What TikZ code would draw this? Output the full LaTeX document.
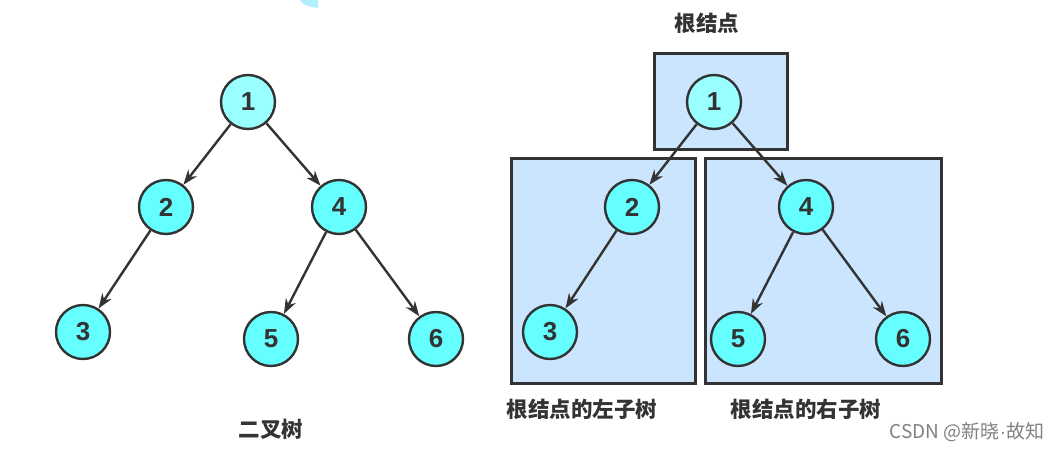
\documentclass[tikz,border=0pt]{standalone}
\usepackage{fontspec}
\setmainfont{Liberation Sans}
\newfontfamily\cjk{Noto Sans CJK SC}
\usetikzlibrary{arrows.meta}

\definecolor{linegray}{HTML}{333333}
\definecolor{rootcyan}{HTML}{99FFFF}
\definecolor{nodecyan}{HTML}{66FFFF}
\definecolor{boxblue}{HTML}{CCE5FF}
\definecolor{blobcyan}{HTML}{B3EEFF}

\tikzset{
  vertex/.style={circle, draw=linegray, line width=2.4pt, fill=nodecyan, minimum size=54pt, inner sep=0pt, font=\fontsize{26}{26}\selectfont\bfseries, text=linegray},
  rootvertex/.style={vertex, fill=rootcyan},
  arr/.style={draw=linegray, line width=2.4pt, -{Stealth[length=15pt, width=11pt]}},
  subtree/.style={draw=linegray, line width=3pt, fill=boxblue},
  caption/.style={font=\cjk\fontsize{21.5}{21.5}\selectfont\bfseries, text=linegray}
}

\begin{document}
\begin{tikzpicture}[x=1pt, y=-1pt]
            \useasboundingbox (0,0) rectangle (1060,450);
            % piece of a shape cut off at the top
            \fill [blobcyan] (300,0) to [out=-60, in=170] (318,8) -- (318,0) -- cycle;
            % binary tree
            \node [rootvertex] (a1) at (248,102) {1};
            \node [vertex] (a2) at (166,207) {2};
            \node [vertex] (a4) at (339,207) {4};
            \node [vertex] (a3) at (83,332) {3};
            \node [vertex] (a5) at (271,339) {5};
            \node [vertex] (a6) at (436,339) {6};
            \draw [arr] (a1) -- (a2);
            \draw [arr] (a1) -- (a4);
            \draw [arr] (a2) -- (a3);
            \draw [arr] (a4) -- (a5);
            \draw [arr] (a4) -- (a6);
            \node [caption] (tlabel) at (271,429) {二叉树};
            % root and its subtrees
            \draw [subtree] (654,53) rectangle (787,149);
            \draw [subtree] (511,158) rectangle (695,383);
            \draw [subtree] (705,158) rectangle (941,383);
            \node [rootvertex] (b1) at (714,102) {1};
            \node [vertex] (b2) at (632,207) {2};
            \node [vertex] (b4) at (806,207) {4};
            \node [vertex] (b3) at (550,332) {3};
            \node [vertex] (b5) at (738,339) {5};
            \node [vertex] (b6) at (903,339) {6};
            \draw [arr] (b1) -- (b2);
            \draw [arr] (b1) -- (b4);
            \draw [arr] (b2) -- (b3);
            \draw [arr] (b4) -- (b5);
            \draw [arr] (b4) -- (b6);
            \node [caption] (rlabel) at (707,23) {根结点};
            \node [caption] (llabel) at (582,409) {根结点的左子树};
            \node [caption] (rrlabel) at (806,409) {根结点的右子树};
            \node [font=\cjk\fontsize{19}{19}\selectfont, text=black!50] (mark) at (967,432) {CSDN @新晓{\rmfamily ·}故知};
        \end{tikzpicture}
\end{document}
